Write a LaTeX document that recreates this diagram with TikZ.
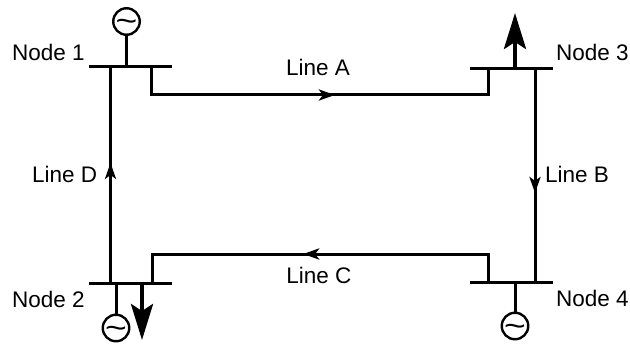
\documentclass[tikz,border=0pt]{standalone}
\usepackage{fontspec}
\setmainfont{Liberation Sans}
\usetikzlibrary{arrows.meta,decorations.markings}
\newcommand{\gentilde}{\smash{\raisebox{-10pt}{\scalebox{1.2}[1]{\char`\~}}}}
\tikzset{
  x=1pt,y=-1pt,
  wire/.style={line width=3pt,line join=miter},
  busbar/.style={line width=3pt},
  stub/.style={line width=3pt},
  gen/.style={circle,draw,line width=2.4pt,minimum size=26.5pt,inner sep=0pt,font=\fontsize{31}{31}\selectfont},
  label/.style={inner sep=0pt,font=\fontsize{22.5}{24}\selectfont},
  flow/.style={postaction={decorate,decoration={markings,mark=at position #1 with {\arrow{Stealth[length=16pt,width=11pt,inset=4pt]}}}}},
  loadarrow/.style={line width=4pt,-{Stealth[length=36pt,width=22pt,inset=7pt]}},
}
\begin{document}
\begin{tikzpicture}
\useasboundingbox (0,0) rectangle (630,345);
% bus ends
\coordinate (b1l) at (89,67); \coordinate (b1r) at (172,67);
\coordinate (b2l) at (89,283.5); \coordinate (b2r) at (172,283.5);
\coordinate (b3l) at (470,69); \coordinate (b3r) at (553,69);
\coordinate (b4l) at (470,282); \coordinate (b4r) at (553,282);
\draw[busbar] (b1l) -- (b1r);
\draw[busbar] (b2l) -- (b2r);
\draw[busbar] (b3l) -- (b3r);
\draw[busbar] (b4l) -- (b4r);
% taps
\coordinate (d2) at (110.5,283.5); \coordinate (d1) at (110.5,67);
\coordinate (a1) at (151,67); \coordinate (a3) at (488,69);
\coordinate (b3) at (535,69); \coordinate (b4) at (535,282);
\coordinate (c4) at (488,282); \coordinate (c2) at (152,283.5);
% lines
\draw[wire,flow=0.542] (a1) |- (a3 |- 0,95) -- (a3);
\draw[wire,flow=0.582] (b3) -- (b4);
\draw[wire,flow=0.541] (c4) |- (c2 |- 0,254) -- (c2);
\draw[wire,flow=0.557] (d2) -- (d1);
% generators
\node[gen] (g1) at (126.5,21.5) {\gentilde};
\node[gen] (g2) at (116,328) {\gentilde};
\node[gen] (g4) at (515,326) {\gentilde};
\draw[stub] (g1) -- (g1 |- b1l);
\draw[stub] (g2) -- (g2 |- b2l);
\draw[stub] (g4) -- (g4 |- b4l);
% loads
\coordinate (l3s) at (515,69); \coordinate (l3e) at (515,13);
\coordinate (l2s) at (142,283.5); \coordinate (l2e) at (142,340);
\draw[loadarrow] (l3s) -- (l3e);
\draw[loadarrow] (l2s) -- (l2e);
% labels
\node[label,anchor=west] (n1) at (12,52) {Node 1};
\node[label,anchor=west] (n2) at (12,299) {Node 2};
\node[label,anchor=west] (n3) at (556,52) {Node 3};
\node[label,anchor=west] (n4) at (556,298) {Node 4};
\node[label] (la) at (318,67) {Line A};
\node[label,anchor=west] (lb) at (545,174) {Line B};
\node[label] (lc) at (319,275) {Line C};
\node[label,anchor=west] (ld) at (32,174) {Line D};
\end{tikzpicture}
\end{document}
